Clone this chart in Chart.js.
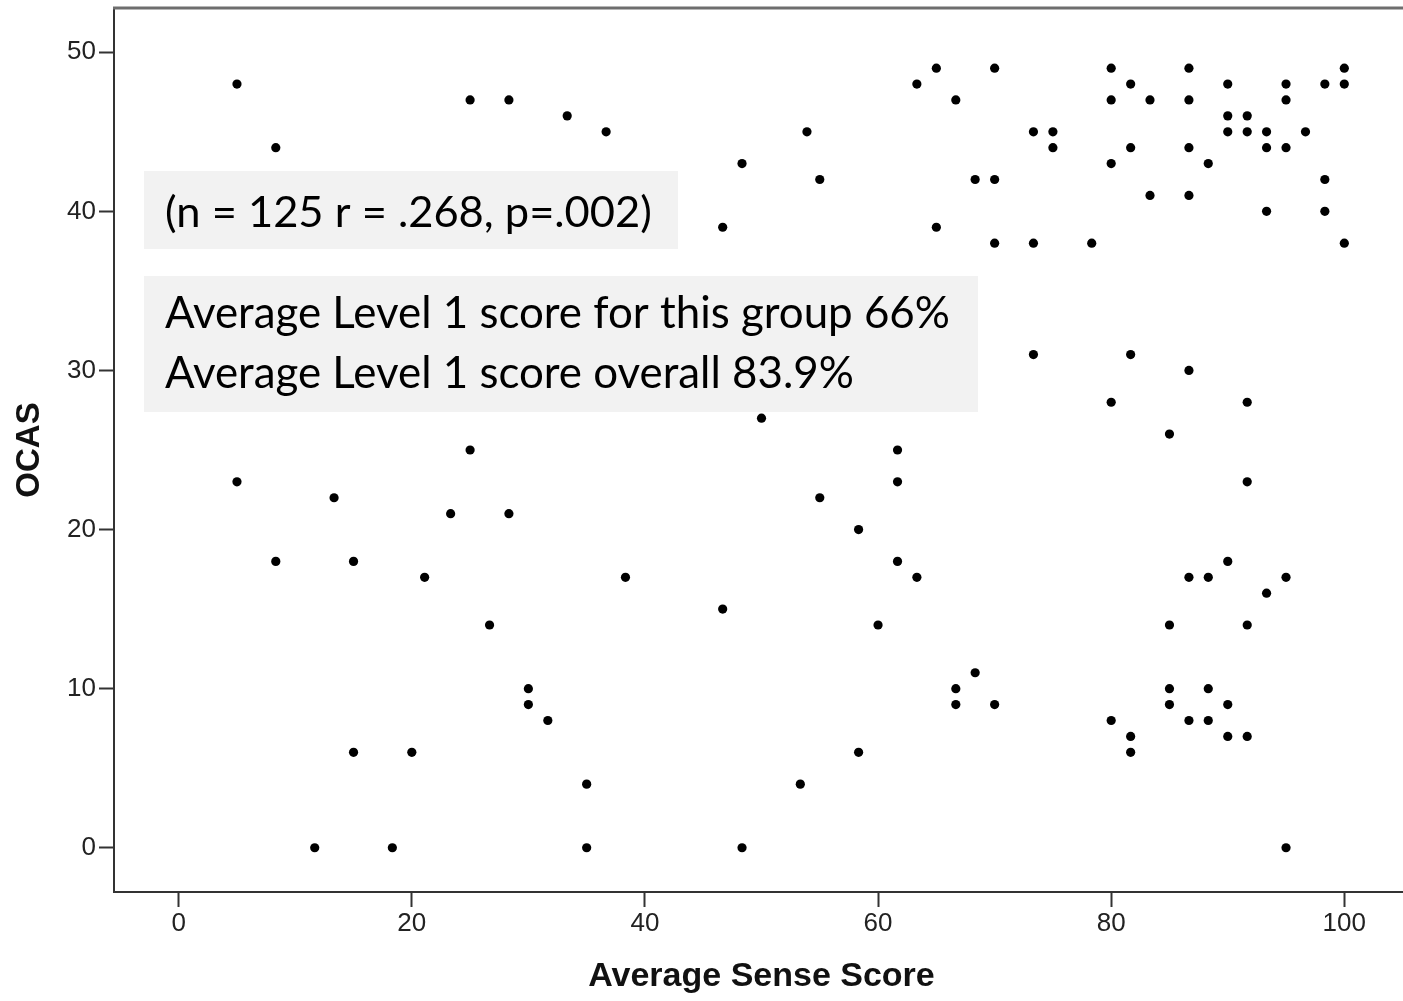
<!DOCTYPE html>
<html>
<head>
<meta charset="utf-8">
<title>OCAS vs Average Sense Score</title>
<script src="https://cdn.jsdelivr.net/npm/chart.js@4.4.1/dist/chart.umd.min.js"></script>
<style>
  html, body { margin: 0; padding: 0; background: #fff; overflow: hidden; }
  #wrap { position: relative; width: 1430px; height: 1001px; }
</style>
</head>
<body>
<div id="wrap"><canvas id="scatter"></canvas></div>
<script>
// Average Sense Score (x) and OCAS (y), one entry per visible point
const senseScore = [
  5, 8.33, 25, 28.33, 33.33, 36.67, 46.67, 48.33, 53.9, 55, 63.33,
  65, 70, 80, 86.67, 100,
  81.67, 90, 95, 98.33, 100,
  66.67, 80, 83.33, 86.67, 95,
  90, 91.67,
  73.33, 75, 90, 91.67, 93.33, 96.67,
  75, 81.67, 86.67, 93.33, 95,
  80, 88.33,
  68.33, 70, 98.33,
  83.33, 86.67,
  93.33, 98.33,
  65,
  70, 73.33, 78.33, 100,
  73.33, 81.67, 86.67, 80, 91.67, 50, 85, 25, 61.67, 5, 61.67, 91.67,
  13.33, 55, 23.33, 28.33, 58.33, 8.33, 15, 61.67, 90, 21.1, 38.33,
  63.33, 86.67, 88.33, 95, 93.33, 46.67, 26.67, 60, 85, 91.67,
  68.33, 30, 66.67, 85, 88.33, 30, 66.67, 70, 85, 90, 31.67, 80, 86.67,
  88.33, 81.67, 90, 91.67, 15, 20, 58.33, 81.67, 35, 53.33,
  11.67, 18.33, 35, 48.33, 95
];
const ocas = [
  48, 44, 47, 47, 46, 45, 39, 43, 45, 42, 48,
  49, 49, 49, 49, 49,
  48, 48, 48, 48, 48,
  47, 47, 47, 47, 47,
  46, 46,
  45, 45, 45, 45, 45, 45,
  44, 44, 44, 44, 44,
  43, 43,
  42, 42, 42,
  41, 41,
  40, 40,
  39,
  38, 38, 38, 38,
  31, 31, 30, 28, 28, 27, 26, 25, 25, 23, 23, 23,
  22, 22, 21, 21, 20, 18, 18, 18, 18, 17, 17,
  17, 17, 17, 17, 16, 15, 14, 14, 14, 14,
  11, 10, 10, 10, 10, 9, 9, 9, 9, 9, 8, 8, 8,
  8, 7, 7, 7, 6, 6, 6, 6, 4, 4,
  0, 0, 0, 0, 0
];
const xTicks = [0, 20, 40, 60, 80, 100];
const yTicks = [0, 10, 20, 30, 40, 50];
const statsText = '(n = 125 r = .268, p=.002)';
const noteLines = ['Average Level 1 score for this group 66%', 'Average Level 1 score overall 83.9%'];

const points = senseScore.map((x, i) => ({ x: x, y: ocas[i] }));

function fitFont(ctx, text, family, targetW) {
  ctx.font = '100px ' + family;
  return 100 * targetW / ctx.measureText(text).width;
}

// plot frame top edge + the grey annotation boxes drawn over the points
const overlay = {
  id: 'overlay',
  afterDraw(chart) {
    const ctx = chart.ctx;
    const a = chart.chartArea;
    ctx.save();
    ctx.strokeStyle = '#6e6e6e';
    ctx.lineWidth = 3;
    ctx.beginPath();
    ctx.moveTo(a.left - 1, a.top);
    ctx.lineTo(a.right, a.top);
    ctx.stroke();

    ctx.fillStyle = '#f2f2f2';
    ctx.fillRect(144, 171, 534, 78);
    ctx.fillRect(144, 276, 834, 136);

    const fam = 'Lato, "Open Sans", sans-serif';
    ctx.fillStyle = '#000';
    ctx.textAlign = 'left';
    ctx.textBaseline = 'alphabetic';
    let s = fitFont(ctx, statsText, fam, 487);
    ctx.font = s + 'px ' + fam;
    ctx.fillText(statsText, 165, 227);
    s = fitFont(ctx, noteLines[0], fam, 785);
    ctx.font = s + 'px ' + fam;
    ctx.fillText(noteLines[0], 165, 328);
    ctx.fillText(noteLines[1], 165, 388);
    ctx.restore();
  }
};

const axisFont = { family: '"Liberation Sans", Arial, sans-serif', size: 26 };

new Chart(document.getElementById('scatter'), {
  type: 'scatter',
  data: {
    datasets: [{
      data: points,
      pointRadius: 4.6,
      pointBackgroundColor: '#000',
      pointBorderWidth: 0
    }]
  },
  options: {
    responsive: true,
    maintainAspectRatio: false,
    animation: false,
    devicePixelRatio: 1,
    layout: { padding: { top: 8, right: 21, left: 0, bottom: 0 } },
    plugins: { legend: { display: false }, tooltip: { enabled: false } },
    scales: {
      x: {
        type: 'linear',
        min: -5.55,
        max: 105.55,
        afterBuildTicks: s => { s.ticks = xTicks.map(v => ({ value: v })); },
        afterFit: s => { s.height = 109; s.paddingLeft = 0; s.paddingRight = 0; },
        grid: { drawOnChartArea: false, tickLength: 15, tickWidth: 2, tickColor: '#333' },
        border: { display: true, color: '#333', width: 2 },
        ticks: { font: axisFont, color: '#222', padding: 1, maxRotation: 0 },
        title: {
          display: true,
          text: 'Average Sense Score',
          color: '#111',
          font: { family: '"Liberation Sans", Arial, sans-serif', size: 34, weight: 'bold' },
          padding: { top: 0, bottom: 4 }
        }
      },
      y: {
        type: 'linear',
        min: -2.78,
        max: 52.78,
        afterBuildTicks: s => { s.ticks = yTicks.map(v => ({ value: v })); },
        afterFit: s => { s.width = 114; s.paddingTop = 0; s.paddingBottom = 0; },
        grid: { drawOnChartArea: false, tickLength: 15, tickWidth: 2, tickColor: '#333' },
        border: { display: true, color: '#333', width: 2 },
        ticks: { font: axisFont, color: '#222', padding: 3 },
        title: {
          display: true,
          text: 'OCAS',
          color: '#111',
          font: { family: '"Liberation Sans", Arial, sans-serif', size: 33, weight: 'bold' },
          padding: { top: 10, bottom: 0 }
        }
      }
    }
  },
  plugins: [overlay]
});
</script>
</body>
</html>
